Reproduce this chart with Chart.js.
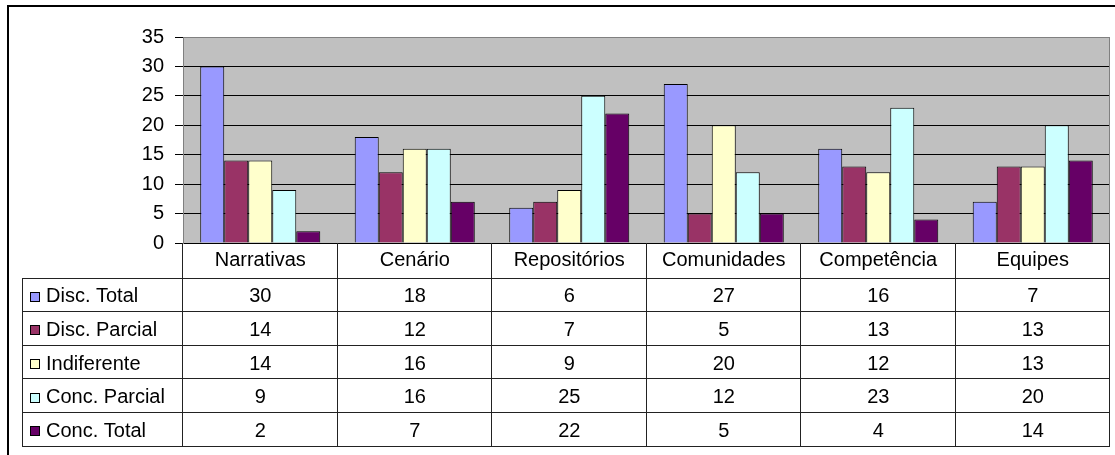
<!DOCTYPE html>
<html>
<head>
<meta charset="utf-8">
<title>Avaliação por tema</title>
<script src="https://cdn.jsdelivr.net/npm/chart.js@4.4.1/dist/chart.umd.min.js"></script>
<style>
  html, body { margin: 0; padding: 0; background: #fff; }
  #wrap { width: 1115px; height: 455px; }
</style>
</head>
<body>
<div id="wrap"><canvas id="chart" width="1115" height="455"></canvas></div>
<script>
// Themes (categories) and the answer counts for each Likert option
const categories = ['Narrativas', 'Cenário', 'Repositórios', 'Comunidades', 'Competência', 'Equipes'];
const discTotal   = [30, 18, 6, 27, 16, 7];
const discParcial = [14, 12, 7, 5, 13, 13];
const indiferente = [14, 16, 9, 20, 12, 13];
const concParcial = [9, 16, 25, 12, 23, 20];
const concTotal   = [2, 7, 22, 5, 4, 14];
const seriesNames = ['Disc. Total', 'Disc. Parcial', 'Indiferente', 'Conc. Parcial', 'Conc. Total'];
const seriesValues = [discTotal, discParcial, indiferente, concParcial, concTotal];
const seriesColors = ['#9999FF', '#993366', '#FFFFCC', '#CCFFFF', '#660066'];
const yTicks = [0, 5, 10, 15, 20, 25, 30, 35];

const FONT = "'Liberation Sans', Arial, sans-serif";
const FONT_SIZE = 20;

// Gray plot background, drawn before the gridlines
const plotBackground = {
  id: 'plotBackground',
  beforeDraw(chart) {
    const { ctx, chartArea: a } = chart;
    ctx.save();
    ctx.fillStyle = '#C0C0C0';
    ctx.fillRect(a.left, a.top, a.right - a.left, a.bottom - a.top);
    ctx.restore();
  }
};

// Plot border, outer frame and the data table under the x axis
const dataTable = {
  id: 'dataTable',
  afterDraw(chart) {
    const { ctx, chartArea: a } = chart;
    const xs = chart.scales.x;
    const n = categories.length;
    const colW = (a.right - a.left) / n;
    const headerH = 34.5;
    const rowH = 33.6;
    const tableLeft = 22;
    const top = a.bottom;
    const rowsTop = top + headerH;
    const bottom = rowsTop + rowH * seriesNames.length;

    ctx.save();
    // gray plot border (top and right)
    ctx.strokeStyle = '#808080';
    ctx.lineWidth = 1;
    ctx.beginPath();
    ctx.moveTo(a.left, a.top + 0.5);
    ctx.lineTo(a.right - 0.5, a.top + 0.5);
    ctx.lineTo(a.right - 0.5, a.bottom);
    ctx.stroke();

    // table grid
    ctx.strokeStyle = '#222';
    ctx.beginPath();
    for (let r = 0; r <= seriesNames.length; r++) {
      const y = Math.round(rowsTop + r * rowH) + 0.5;
      ctx.moveTo(tableLeft, y);
      ctx.lineTo(a.right, y);
    }
    ctx.moveTo(tableLeft + 0.5, Math.round(rowsTop));
    ctx.lineTo(tableLeft + 0.5, Math.round(bottom) + 1);
    for (let c = 0; c <= n; c++) {
      const x = Math.round(a.left + c * colW) - 0.5;
      ctx.moveTo(x, top);
      ctx.lineTo(x, Math.round(bottom) + 1);
    }
    ctx.stroke();

    // header: category names
    ctx.fillStyle = '#000';
    ctx.font = FONT_SIZE + 'px ' + FONT;
    ctx.textAlign = 'center';
    ctx.textBaseline = 'middle';
    categories.forEach((cat, i) => {
      ctx.fillText(cat, xs.getPixelForValue(i), top + headerH / 2 + 0.5);
    });

    // rows: swatch, series name and values
    seriesNames.forEach((name, r) => {
      const cy = rowsTop + r * rowH + rowH / 2 + 2.5;
      const sy = Math.round(cy - 5) + 0.5;
      ctx.fillStyle = seriesColors[r];
      ctx.fillRect(30.5, sy, 9, 9);
      ctx.strokeStyle = '#000';
      ctx.strokeRect(30.5, sy, 9, 9);
      ctx.fillStyle = '#000';
      ctx.textAlign = 'left';
      ctx.fillText(name, 46, cy);
      ctx.textAlign = 'center';
      seriesValues[r].forEach((v, i) => {
        ctx.fillText(String(v), xs.getPixelForValue(i), cy);
      });
    });

    // outer chart frame
    ctx.strokeStyle = '#000';
    ctx.lineWidth = 2;
    ctx.beginPath();
    ctx.moveTo(8, chart.height);
    ctx.lineTo(8, 6);
    ctx.lineTo(chart.width, 6);
    ctx.stroke();
    ctx.restore();
  }
};

new Chart(document.getElementById('chart'), {
  type: 'bar',
  data: {
    labels: categories,
    datasets: seriesNames.map((name, k) => ({
      label: name,
      data: seriesValues[k],
      backgroundColor: seriesColors[k],
      borderColor: '#000',
      borderWidth: 1,
      categoryPercentage: 0.777,
      barPercentage: 1
    }))
  },
  options: {
    responsive: false,
    devicePixelRatio: 1,
    animation: false,
    layout: { padding: { top: 37, right: 5, bottom: 212, left: 0 } },
    plugins: { legend: { display: false }, tooltip: { enabled: false } },
    scales: {
      x: { display: false },
      y: {
        min: 0,
        max: 35,
        afterFit(scale) { scale.width = 183; },
        afterBuildTicks(scale) { scale.ticks = yTicks.map(v => ({ value: v })); },
        ticks: {
          color: '#000',
          padding: 11,
          font: { family: FONT, size: FONT_SIZE }
        },
        grid: {
          color: ctx => (ctx.tick && ctx.tick.value === 35 ? '#808080' : '#000'),
          tickColor: '#000',
          tickLength: 8,
          lineWidth: 1
        },
        border: { color: '#808080', width: 1 }
      }
    }
  },
  plugins: [plotBackground, dataTable]
});
</script>
</body>
</html>
